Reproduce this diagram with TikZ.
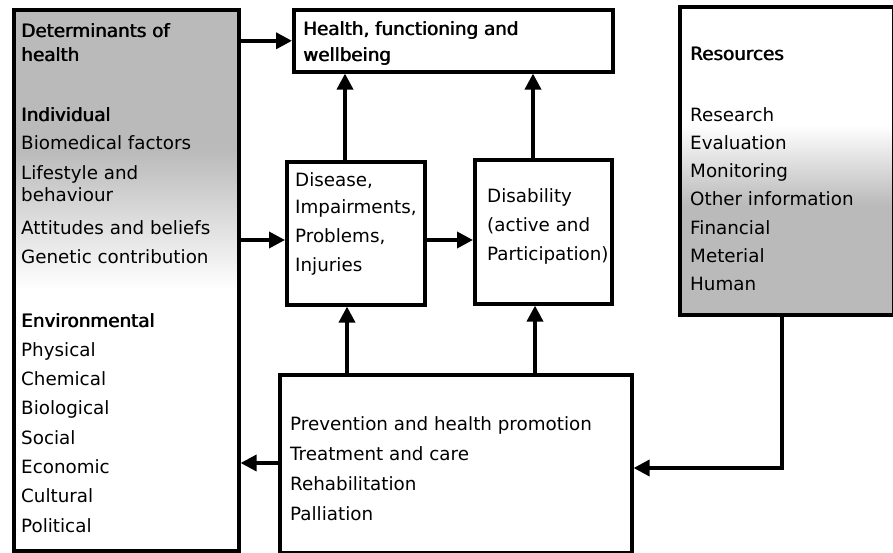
\documentclass[tikz,border=0pt]{standalone}
\usepackage{fontspec}
\setmainfont{DejaVu Sans}
\usetikzlibrary{arrows.meta,positioning,backgrounds}

% overprinted text, a little heavier than regular
\newcommand\heavy[1]{\rlap{#1}\hspace{0.7pt}#1}

\tikzset{
  box/.style={draw, line width=3.6pt, inner sep=0pt, anchor=north west},
  txt/.style={anchor=base west, inner sep=0pt, font=\fontsize{18.3}{22}\selectfont},
  arr/.style={line width=3.6pt, -{Triangle[length=16pt,width=16pt]}}
}

\begin{document}
\begin{tikzpicture}[x=1pt,y=-1pt]
\useasboundingbox (0,0) rectangle (893,553);

% boxes
\node[box, minimum width=225pt, minimum height=541pt] (det) at (12,8) {};
\node[box, minimum width=319pt, minimum height=62pt] (hfw) at (292,8) {};
\node[box, minimum width=138pt, minimum height=143pt] (dis) at (285,160) {};
\node[box, minimum width=137pt, minimum height=144pt] (dab) at (473,158) {};
\node[box, minimum width=214pt, minimum height=308pt] (res) at (678,5) {};
\node[box, minimum width=352pt, minimum height=178pt] (pre) at (278,373) {};

% shading
\begin{scope}[on background layer]
\fill[black!27] (det.north west) rectangle (237,150);
\shade[top color=black!27, bottom color=white] (12,150) rectangle (237,290);
\shade[top color=white, bottom color=black!27] (678,125) rectangle (892,205);
\fill[black!27] (678,205) rectangle (res.south east);
\end{scope}

% determinants
\node[txt] (detA) at (21,38) {\heavy{Determinants of}};
\node[txt] (detB) at (21,62) {\heavy{health}};
\node[txt] (indv) at (21,122) {\heavy{Individual}};
\foreach \t/\y [count=\i] in {Biomedical factors/150, Lifestyle and/180, behaviour/202,
  Attitudes and beliefs/235, Genetic contribution/263}
  \node[txt] (ind\i) at (21,\y) {\t};
\node[txt] (envr) at (21,327) {\heavy{Environmental}};
\foreach \t [count=\i] in {Physical,Chemical,Biological,Social,Economic,Cultural,Political}
  \node[txt] (env\i) at (21,{327+29.3*\i}) {\t};

% health
\node[txt] (hfwA) at (303,36) {\heavy{Health, functioning and}};
\node[txt] (hfwB) at (303,62) {\heavy{wellbeing}};

% disease and disability
\foreach \t/\y [count=\i] in {{Disease,}/187, {Impairments,}/214, {Problems,}/242, Injuries/271}
  \node[txt] (dis\i) at (295,\y) {\t};
\node[txt] (dab1) at (487,203) {Disability};
\node[txt] (dab2) at (487,232) {(active and};
\node[txt] (dab3) at (487,260) {Participation)};

% resources
\node[txt] (resH) at (690,61) {\heavy{Resources}};
\foreach \t [count=\i] in {Research,Evaluation,Monitoring,Other information,Financial,Meterial,Human}
  \node[txt] (res\i) at (690,{94+28*\i}) {\t};

% services
\foreach \t [count=\i] in {Prevention and health promotion,Treatment and care,Rehabilitation,Palliation}
  \node[txt] (pre\i) at (290,{400+30*\i}) {\t};

% arrows
\draw[arr] (det.east |- hfw.west) -- (hfw.west);
\draw[arr] (det.east |- 0,240) -- (dis.west |- 0,240);
\draw[arr] (dis.east |- 0,240) -- (dab.west |- 0,240);
\draw[arr] (dis.north -| 345,0) -- (hfw.south -| 345,0);
\draw[arr] (dab.north -| 533,0) -- (hfw.south -| 533,0);
\draw[arr] (pre.north -| 347,0) -- (dis.south -| 347,0);
\draw[arr] (pre.north -| 535,0) -- (dab.south -| 535,0);
\draw[arr] (pre.west |- 0,463) -- (det.east |- 0,463);
\draw[arr] (res.south -| 782,0) |- (pre.east |- 0,468);
\end{tikzpicture}
\end{document}
